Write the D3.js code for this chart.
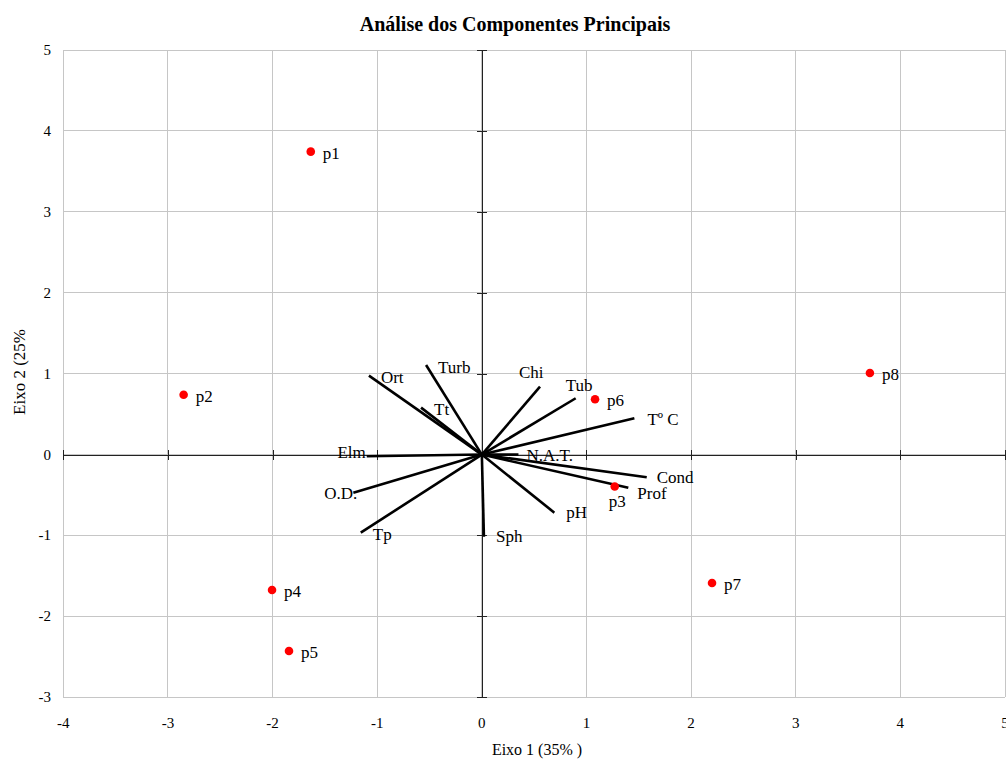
<!DOCTYPE html>
<html>
<head>
<meta charset="utf-8">
<script src="https://cdn.jsdelivr.net/npm/d3@7"></script>
<style>
  html, body { margin: 0; padding: 0; background: #fff; }
  svg { display: block; font-family: "Liberation Serif", "Times New Roman", serif; }
</style>
</head>
<body>
<svg id="chart" width="1006" height="762"></svg>
<script>
// ---- Data ----
const xTicks = [-4, -3, -2, -1, 0, 1, 2, 3, 4, 5];
const yTicks = [-3, -2, -1, 0, 1, 2, 3, 4, 5];

const pointNames = ["p1", "p2", "p3", "p4", "p5", "p6", "p7", "p8"];
const pointX = [-1.635, -2.85, 1.27, -2.005, -1.843, 1.082, 2.20, 3.709];
const pointY = [3.744, 0.74, -0.395, -1.674, -2.428, 0.683, -1.587, 1.008];

const varNames = ["Ort", "Turb", "Tt", "Chi", "Tub", "Tº C", "N.A.T.", "Elm", "O.D.", "Tp", "Sph", "pH", "Cond", "Prof"];
const varX = [-1.079, -0.533, -0.581, 0.556, 0.897, 1.458, 0.35, -1.10, -1.228, -1.157, 0.02, 0.693, 1.576, 1.40];
const varY = [0.975, 1.107, 0.58, 0.839, 0.696, 0.449, 0.0, -0.02, -0.471, -0.965, -1.015, -0.718, -0.281, -0.409];

const titleText = "Análise dos Componentes Principais";
const xTitle = "Eixo 1 (35% )";
const yTitle = "Eixo 2 (25%";

// ---- Layout (label placement, pixels) ----
const labelLayout = {
  "Ort": [12, 7, "start"], "Turb": [12, 8, "start"], "Tt": [13, 7, "start"],
  "Chi": [-21, -9, "start"], "Tub": [-10, -7, "start"], "Tº C": [13, 7, "start"],
  "N.A.T.": [8, 6, "start"], "Elm": [-1, 2, "end"], "O.D.": [4, 6, "end"],
  "Tp": [12, 7, "start"], "Sph": [12, 5, "start"], "pH": [12, 5, "start"],
  "Cond": [10, 6, "start"], "Prof": [9, 11, "start"],
  "p3": [-6, 20, "start"]
};
const defaultPointLabel = [12, 7, "start"];

const svg = d3.select("#chart");
const x = d3.scaleLinear().domain([-4, 5]).range([63.3, 1005]);
const y = d3.scaleLinear().domain([-3, 5]).range([697.3, 50]);

// Grid
const grid = svg.append("g");
grid.selectAll("line.gx").data(xTicks).join("line")
  .attr("x1", d => x(d)).attr("x2", d => x(d))
  .attr("y1", y(-3)).attr("y2", y(5))
  .attr("stroke", "#c6c6c6").attr("stroke-width", 1).attr("shape-rendering", "crispEdges");
grid.selectAll("line.gy").data(yTicks).join("line")
  .attr("x1", x(-4)).attr("x2", x(5))
  .attr("y1", d => y(d)).attr("y2", d => y(d))
  .attr("stroke", "#c6c6c6").attr("stroke-width", 1).attr("shape-rendering", "crispEdges");

// Axes through origin with cross ticks
const xAxisG = svg.append("g").attr("transform", `translate(0,${y(0)})`)
  .call(d3.axisBottom(x).tickValues(xTicks).tickSizeInner(5).tickSizeOuter(0).tickFormat(""));
const yAxisG = svg.append("g").attr("transform", `translate(${x(0)},0)`)
  .call(d3.axisLeft(y).tickValues(yTicks).tickSizeInner(5).tickSizeOuter(0).tickFormat(""));
[xAxisG, yAxisG].forEach(g => {
  g.select(".domain").attr("stroke", "#222").attr("shape-rendering", "crispEdges");
  g.selectAll(".tick line").attr("stroke", "#222").attr("shape-rendering", "crispEdges");
});
xAxisG.selectAll(".tick line").attr("y1", -5).attr("y2", 5);
yAxisG.selectAll(".tick line").attr("x1", -5).attr("x2", 5);

// Tick labels at plot edges
svg.append("g").selectAll("text").data(xTicks).join("text")
  .attr("x", d => x(d)).attr("y", 728)
  .attr("text-anchor", "middle").attr("font-size", 15).attr("fill", "#000")
  .text(d => d);
svg.append("g").selectAll("text").data(yTicks).join("text")
  .attr("x", 51).attr("y", d => y(d) + 5)
  .attr("text-anchor", "end").attr("font-size", 15).attr("fill", "#000")
  .text(d => d);

// Vectors
const vars = varNames.map((n, i) => ({ name: n, vx: varX[i], vy: varY[i] }));
svg.append("g").selectAll("line").data(vars).join("line")
  .attr("x1", x(0)).attr("y1", y(0))
  .attr("x2", d => x(d.vx)).attr("y2", d => y(d.vy))
  .attr("stroke", "#000").attr("stroke-width", 2.6);
svg.append("g").selectAll("text").data(vars).join("text")
  .each(function (d) {
    const L = labelLayout[d.name] || defaultPointLabel;
    d3.select(this).attr("x", x(d.vx) + L[0]).attr("y", y(d.vy) + L[1]).attr("text-anchor", L[2]);
  })
  .attr("font-size", 17).attr("fill", "#000")
  .text(d => d.name);

// Points
const pts = pointNames.map((n, i) => ({ name: n, px: pointX[i], py: pointY[i] }));
svg.append("g").selectAll("circle").data(pts).join("circle")
  .attr("cx", d => x(d.px)).attr("cy", d => y(d.py)).attr("r", 4.3)
  .attr("fill", "#ff0000");
svg.append("g").selectAll("text").data(pts).join("text")
  .each(function (d) {
    const L = labelLayout[d.name] || defaultPointLabel;
    d3.select(this).attr("x", x(d.px) + L[0]).attr("y", y(d.py) + L[1]).attr("text-anchor", L[2]);
  })
  .attr("font-size", 17).attr("fill", "#000")
  .text(d => d.name);

// Titles
svg.append("text").attr("x", 515).attr("y", 31)
  .attr("text-anchor", "middle").attr("font-size", 20).attr("font-weight", "bold")
  .text(titleText);
svg.append("text").attr("x", 537).attr("y", 755)
  .attr("text-anchor", "middle").attr("font-size", 16)
  .text(xTitle);
svg.append("text").attr("transform", "translate(25,372) rotate(-90)")
  .attr("text-anchor", "middle").attr("font-size", 17)
  .text(yTitle);
</script>
</body>
</html>
